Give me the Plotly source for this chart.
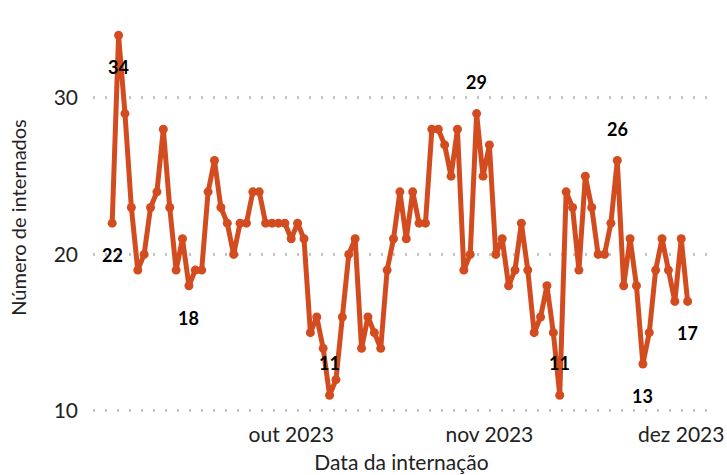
import pandas as pd
import plotly.graph_objects as go

start_date = "2023-09-03"
values = [22, 34, 29, 23, 19, 20, 23, 24, 28, 23, 19, 21, 18, 19, 19, 24, 26, 23, 22, 20,
          22, 22, 24, 24, 22, 22, 22, 22,
          21, 22, 21, 15, 16, 14, 11, 12, 16, 20, 21, 14, 16, 15, 14, 19, 21, 24, 21, 24,
          22, 22, 28, 28, 27, 25, 28, 19, 20, 29,
          25, 27, 20, 21, 18, 19, 22, 19, 15, 16, 18, 15, 11, 24, 23, 19, 25, 23, 20, 20,
          22, 26, 18, 21, 18, 13, 15, 19, 21, 19, 17, 21, 17]
dates = pd.date_range(start_date, periods=len(values), freq="D")

# labelled points: (index, shift direction)
label_idx = [0, 1, 12, 34, 57, 70, 79, 83, 90]
label_dir = [-1, -1, -1, 1, 1, 1, 1, -1, -1]

tick_vals = ["2023-10-01", "2023-11-01", "2023-12-01"]
tick_text = ["out 2023", "nov 2023", "dez 2023"]
y_ticks = [10, 20, 30]

color = "#D34C1F"
font_family = "Lato, 'Open Sans', sans-serif"

fig = go.Figure()
fig.add_trace(go.Scatter(
    x=dates, y=values, mode="lines+markers",
    line=dict(color=color, width=5),
    marker=dict(color=color, size=9),
    showlegend=False, hoverinfo="x+y",
))

for i, d in zip(label_idx, label_dir):
    fig.add_annotation(
        x=dates[i], y=values[i], text=f"<b>{values[i]}</b>",
        showarrow=False, yshift=32 * d,
        font=dict(family=font_family, size=18, color="black"),
    )

fig.update_layout(
    width=727, height=475,
    margin=dict(l=93, r=17, t=20, b=60, autoexpand=False),
    paper_bgcolor="white", plot_bgcolor="white",
    font=dict(family=font_family, size=21, color="#222222"),
    xaxis=dict(
        range=["2023-08-31", "2023-12-05 12:00"],
        tickvals=tick_vals, ticktext=tick_text,
        showgrid=False, zeroline=False, showline=False, ticks="",
        ticklabelstandoff=5,
        title=dict(text="Data da internação", font=dict(size=21), standoff=10),
        tickfont=dict(size=21), automargin=False,
    ),
    yaxis=dict(
        range=[9.74, 34.98],
        tickvals=y_ticks,
        showgrid=True, gridcolor="#C4C4C4", griddash="2px,10px", gridwidth=2.5,
        zeroline=False, showline=False, ticks="",
        ticklabelstandoff=14,
        title=dict(text="Número de internados", font=dict(size=20), standoff=21),
        tickfont=dict(size=21), automargin=False,
    ),
)

fig.write_html(
    "out.html",
    config={"displayModeBar": False},
    post_script="document.body.style.margin='0';document.body.style.overflow='hidden';",
)
